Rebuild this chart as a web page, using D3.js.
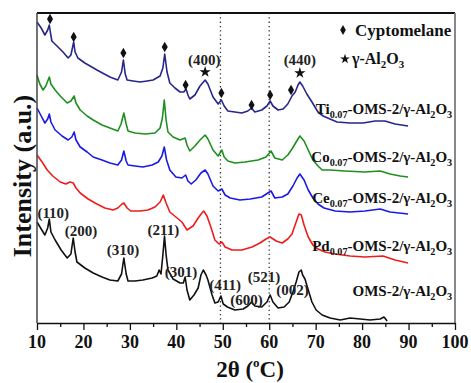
<!DOCTYPE html>
<html><head><meta charset="utf-8">
<script src="https://cdn.jsdelivr.net/npm/d3@7"></script>
<style>body{margin:0;background:#fff}svg{display:block}</style>
</head><body><svg id="c" width="471" height="383" font-family="'Liberation Serif', 'Times New Roman', Times, 'DejaVu Serif', serif" font-weight="bold"></svg>
<script>
// ---- data: [2θ, intensity (a.u., stacked)] ----
const ti = [[10,301],[10.9,295],[11.7,288],[12.3,293],[12.65,298],[12.9,290],[13.2,282],[14.3,277],[15.6,271],[16.7,265],[17.3,268],[17.9,281],[18.2,271],[18.8,265],[20.3,260],[22.9,253],[25.7,246],[27.4,243],[28.2,251],[28.6,263],[29.0,249],[29.4,243],[30.7,242],[32.2,241],[33.7,242],[35.0,243],[36.5,247],[37.1,255],[37.5,269],[38.0,251],[38.6,240],[39.7,235],[40.8,231],[41.6,231],[42.1,234],[42.5,228],[42.9,224],[44.0,228],[45.1,237],[46.2,243],[46.8,239],[47.9,226],[49.0,219],[49.7,223],[50.3,217],[51.1,212],[52.6,211],[54.1,210],[55.4,212],[56.2,215],[56.9,211],[58.4,213],[59.5,217],[60.2,222],[60.8,217],[61.9,213],[63.0,214],[64.0,219],[64.9,227],[65.6,231],[66.2,238],[66.6,241],[67.2,237],[68.1,229],[69.2,221],[70.5,211],[71.6,207],[73.1,204],[74.6,201],[77.4,200],[80.2,200],[82.8,202],[84.9,202],[87.1,199],[89.9,197]];
const co = [[10,248],[10.6,239],[11.3,233],[11.9,237],[12.65,246],[13.0,239],[13.9,233],[15.0,227],[16.5,220],[17.3,222],[18.0,227],[18.4,220],[19.3,213],[20.8,207],[22.1,203],[24.0,198],[25.7,195],[27.4,192],[28.1,199],[28.7,210],[29.2,199],[29.6,192],[31.1,190],[33.3,189],[35.4,190],[36.5,195],[37.0,205],[37.4,223],[37.8,203],[38.2,191],[39.3,186],[40.8,183],[41.9,185],[42.3,178],[42.9,172],[44.0,177],[45.1,183],[46.2,188],[46.8,184],[47.9,173],[49.0,167],[49.8,173],[50.3,166],[51.1,162],[52.6,160],[54.8,161],[57.6,163],[59.3,166],[60.4,172],[61.2,165],[62.8,163],[64.0,168],[64.9,174],[65.8,181],[66.6,187],[67.5,182],[68.4,173],[69.4,163],[70.5,157],[71.4,153],[73.1,153],[76.3,152],[80.6,151],[83.9,152],[86.0,149],[88.2,147],[89.9,146]];
const ce = [[10,215],[10.9,207],[11.7,200],[12.3,204],[12.65,209],[13.0,201],[13.9,193],[15.4,187],[16.7,183],[17.5,186],[18.0,191],[18.4,183],[19.3,176],[20.8,171],[22.1,166],[24.0,163],[25.7,160],[27.4,158],[28.2,163],[28.7,172],[29.2,162],[29.6,158],[31.1,157],[32.8,156],[34.8,158],[36.1,161],[36.9,167],[37.4,176],[37.9,163],[38.6,153],[39.9,146],[41.2,145],[42.0,148],[42.5,142],[43.2,139],[44.2,143],[45.3,150],[46.2,153],[46.8,149],[47.9,137],[49.0,132],[49.8,134],[50.5,128],[51.6,125],[53.7,123],[55.9,124],[58.4,126],[59.7,130],[60.4,132],[61.2,125],[62.8,126],[64.0,129],[65.1,137],[66.0,145],[66.6,149],[67.5,143],[68.4,133],[69.4,125],[70.5,119],[71.8,115],[74.2,112],[77.4,111],[80.6,112],[83.9,114],[86.0,111],[89.9,109]];
const pd = [[10,168],[11.1,161],[12.2,153],[13.4,147],[15.0,141],[16.2,139],[17.1,141],[17.8,140],[18.4,135],[19.3,130],[21.0,124],[22.9,119],[24.6,115],[26.4,113],[27.4,115],[28.3,119],[28.7,120],[29.4,115],[30.2,112],[32.2,112],[33.9,113],[35.4,116],[36.5,121],[37.2,128],[37.8,120],[38.6,111],[39.9,106],[41.2,101],[42.3,93],[43.6,97],[44.7,105],[45.5,110],[45.9,112],[46.6,107],[47.5,95],[48.3,83],[49.2,79],[49.8,81],[50.5,76],[52.0,73],[54.1,73],[56.3,76],[58.0,80],[59.3,84],[60.2,86],[61.5,82],[62.8,80],[64.0,84],[64.9,89],[65.8,101],[66.4,109],[66.9,108],[67.5,98],[68.4,86],[69.4,78],[70.5,74],[72.0,71],[74.2,69],[77.4,67],[80.6,66],[84.5,67],[87.1,63],[89.9,60]];
const oms = [[10,101],[10.9,94],[11.7,88],[12.3,95],[12.65,104],[13.0,91],[13.9,83],[15.2,73],[16.5,65],[17.3,69],[17.8,85],[18.2,71],[18.6,61],[20.3,55],[22.1,50],[24.0,46],[25.7,43],[27.4,42],[28.2,49],[28.7,65],[29.2,49],[29.6,42],[31.1,42],[32.8,43],[34.8,45],[35.8,47],[36.3,53],[36.7,49],[37.1,68],[37.45,87],[37.8,68],[38.2,53],[39.3,44],[40.8,40],[41.5,40],[41.9,46],[42.3,33],[42.9,23],[43.8,28],[44.7,35],[45.3,48],[45.8,53],[46.4,48],[46.8,43],[47.7,28],[48.3,20],[49.0,21],[49.6,27],[50.1,19],[51.0,16],[52.6,13],[54.4,14],[55.4,17],[56.2,21],[56.9,17],[58.4,16],[59.5,21],[60.2,28],[60.8,21],[61.9,15],[63.2,16],[64.3,21],[65.1,31],[65.8,41],[66.4,51],[66.9,53],[67.2,48],[67.7,44],[68.4,33],[69.2,21],[70.1,13],[71.4,8],[73.1,5],[75.3,3],[77.4,5],[79.6,4],[81.7,3],[83.9,4],[84.7,6],[85.4,2]];

const seriesColors = ["#26268c","#1f8f1f","#1a1ae6","#ee1d1d","#111111"];
const seriesLabels = [
  [["Ti",""],["0.07","sub"],["-OMS-2/γ-Al",""],["2","sub"],["O",""],["3","sub"]],
  [["Co",""],["0.07","sub"],["-OMS-2/γ-Al",""],["2","sub"],["O",""],["3","sub"]],
  [["Ce",""],["0.07","sub"],["-OMS-2/γ-Al",""],["2","sub"],["O",""],["3","sub"]],
  [["Pd",""],["0.07","sub"],["-OMS-2/γ-Al",""],["2","sub"],["O",""],["3","sub"]],
  [["OMS-2/γ-Al",""],["2","sub"],["O",""],["3","sub"]]
];
const labelLevels = [214, 166, 125, 77, 32];

const cyptoMarks = [[12.8,304],[17.9,286],[28.6,270],[37.5,276],[42.0,238],[49.7,230],[56.2,218],[60.2,228],[64.7,233]];
const aluminaMarks = [[46.2,251],[66.6,250]];
const hklLabels = [["(400)",46.0,263],["(440)",66.6,263],["(110)",13.5,110],["(200)",19.5,92],["(310)",28.5,73],["(211)",37.2,93],["(301)",41.0,51],["(411)",50.5,38],["(600)",55.1,23],["(521)",58.9,46],["(002)",65.0,33]];
const refLines = [49.5, 60];
const xTicks = [10,20,30,40,50,60,70,80,90,100];

// ---- layout ----
const L=37, R=455, T=13, B=323;
const svg = d3.select("#c");
const x = d3.scaleLinear().domain([10,100]).range([L,R]);
const y = d3.scaleLinear().domain([0,310]).range([B,T]);

// reference dotted lines
svg.selectAll("line.ref").data(refLines).join("line")
  .attr("x1",d=>x(d)).attr("x2",d=>x(d)).attr("y1",T).attr("y2",B)
  .attr("stroke","#333").attr("stroke-width",1.3).attr("stroke-dasharray","1.3,3");

// curves
const line = d3.line().x(d=>x(d[0])).y(d=>y(d[1]));
const all = [ti,co,ce,pd,oms];
svg.selectAll("path.s").data(all).join("path")
  .attr("d",line).attr("fill","none")
  .attr("stroke",(d,i)=>seriesColors[i]).attr("stroke-width",1.6).attr("stroke-linejoin","round");

// frame
svg.append("line").attr("x1",L).attr("x2",R).attr("y1",T).attr("y2",T).attr("stroke","#111").attr("stroke-width",1.8);
svg.append("line").attr("x1",R).attr("x2",R).attr("y1",T).attr("y2",B).attr("stroke","#888").attr("stroke-width",2);
svg.append("line").attr("x1",L).attr("x2",L).attr("y1",T).attr("y2",B).attr("stroke","#444").attr("stroke-width",1.5);

// x axis
const ax = d3.axisBottom(x).tickValues(d3.range(10,101,5)).tickSize(0).tickFormat("");
const gx = svg.append("g").attr("transform",`translate(0,${B})`).call(ax);
gx.select(".domain").attr("stroke","#111").attr("stroke-width",1.6);
gx.selectAll(".tick line").attr("y2",d=>d%10===0?7:4).attr("stroke","#111").attr("stroke-width",1.3);
svg.selectAll("text.xt").data(xTicks).join("text")
  .attr("x",d=>x(d)).attr("y",B+25).attr("text-anchor","middle")
  .attr("font-size",18).attr("fill","#111").text(d=>d);

// axis titles
const xt = svg.append("text").attr("x",250).attr("y",377).attr("text-anchor","middle").attr("font-size",23).attr("fill","#111");
xt.append("tspan").text("2θ (");
xt.append("tspan").text("o").attr("font-size",13).attr("dy",-10);
xt.append("tspan").text("C)").attr("dy",10);
svg.append("text").attr("transform","translate(31,176) rotate(-90)").attr("text-anchor","middle")
  .attr("font-size",26).attr("fill","#111").text("Intensity (a.u.)");

// markers
svg.selectAll("path.dm").data(cyptoMarks).join("path")
  .attr("d",d3.symbol(d3.symbolDiamond,32)).attr("transform",d=>`translate(${x(d[0])},${y(d[1])})`).attr("fill","#111");
svg.selectAll("path.st").data(aluminaMarks).join("path")
  .attr("d",d3.symbol(d3.symbolStar,40)).attr("transform",d=>`translate(${x(d[0])},${y(d[1])})`).attr("fill","#111");

// hkl labels
svg.selectAll("text.hkl").data(hklLabels).join("text")
  .attr("x",d=>x(d[1])).attr("y",d=>y(d[2])).attr("text-anchor","middle").attr("dominant-baseline","central")
  .attr("font-size",15).attr("fill","#222").text(d=>d[0]);

// rich text helper
function rich(g, segs, size){
  segs.forEach(([t,k],i)=>{
    const prev = i>0?segs[i-1][1]:"";
    let dy = 0;
    if(k==="sub" && prev!=="sub") dy = 4;
    if(k!=="sub" && prev==="sub") dy = -4;
    g.append("tspan").text(t).attr("font-size",k==="sub"?size*0.68:size).attr("dy",dy);
  });
}
// series labels
seriesLabels.forEach((segs,i)=>{
  const t = svg.append("text").attr("x",x(99.4)).attr("y",y(labelLevels[i])+5).attr("text-anchor","end").attr("fill","#111");
  rich(t, segs, 15);
});

// legend
svg.append("path").attr("d",d3.symbol(d3.symbolDiamond,28)).attr("transform","translate(343,30)").attr("fill","#111");
svg.append("text").attr("x",355).attr("y",36).attr("font-size",17).attr("fill","#111").text("Cyptomelane");
svg.append("path").attr("d",d3.symbol(d3.symbolStar,30)).attr("transform","translate(345,59)").attr("fill","#111");
const lg = svg.append("text").attr("x",352).attr("y",64).attr("fill","#111");
rich(lg, [["γ-Al",""],["2","sub"],["O",""],["3","sub"]], 16);
</script></body></html>
